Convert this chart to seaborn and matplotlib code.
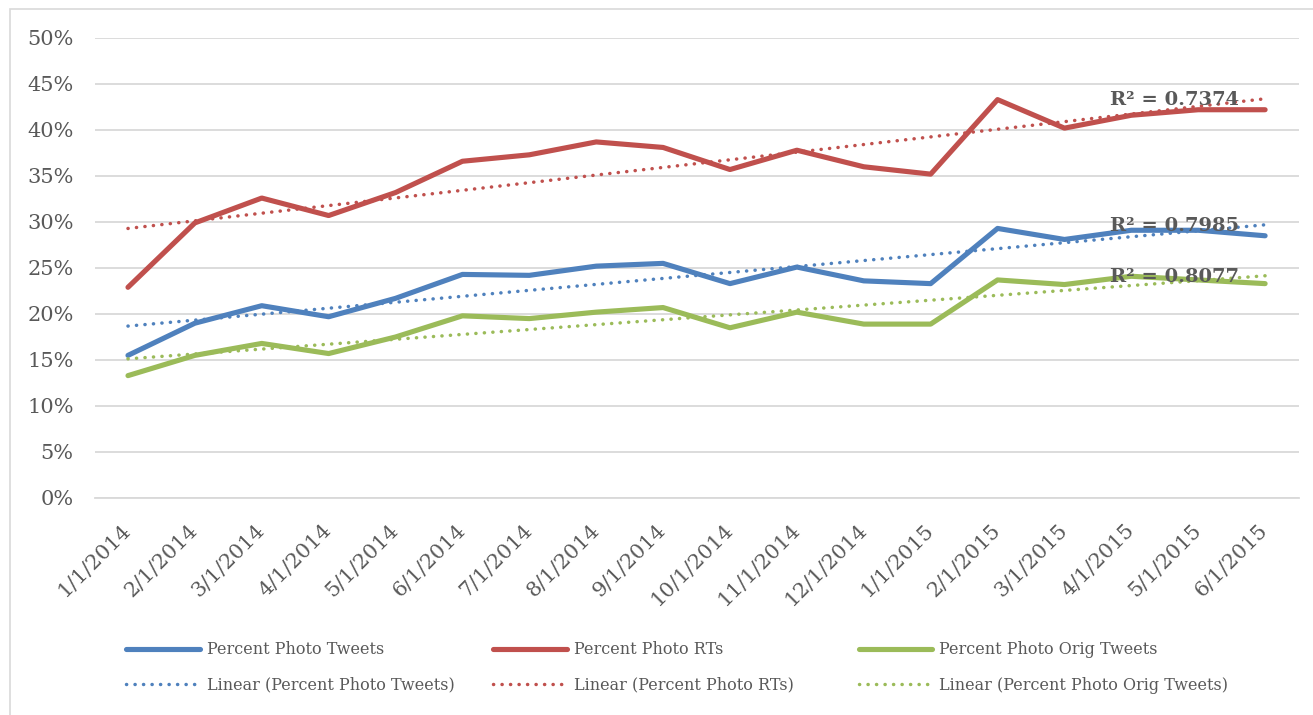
import numpy as np
import pandas as pd
import matplotlib
matplotlib.use("Agg")
import matplotlib.pyplot as plt
from matplotlib.lines import Line2D
from matplotlib.patches import Rectangle
from matplotlib.ticker import PercentFormatter
import seaborn as sns

# months on the x axis
dates = ["1/1/2014", "2/1/2014", "3/1/2014", "4/1/2014", "5/1/2014", "6/1/2014",
         "7/1/2014", "8/1/2014", "9/1/2014", "10/1/2014", "11/1/2014", "12/1/2014",
         "1/1/2015", "2/1/2015", "3/1/2015", "4/1/2015", "5/1/2015", "6/1/2015"]

# percent values
photo_tweets = [15.5, 19.0, 20.9, 19.7, 21.7, 24.3, 24.2, 25.2, 25.5, 23.3, 25.1, 23.6,
                23.3, 29.3, 28.1, 29.1, 29.1, 28.5]
photo_rts = [22.9, 29.9, 32.6, 30.7, 33.2, 36.6, 37.3, 38.7, 38.1, 35.7, 37.8, 36.0,
             35.2, 43.3, 40.2, 41.6, 42.2, 42.2]
photo_orig = [13.3, 15.5, 16.8, 15.7, 17.5, 19.8, 19.5, 20.2, 20.7, 18.5, 20.2, 18.9,
              18.9, 23.7, 23.2, 24.1, 23.7, 23.3]

series_names = ["Percent Photo Tweets", "Percent Photo RTs", "Percent Photo Orig Tweets"]
r2_labels = ["R² = 0.7985", "R² = 0.7374", "R² = 0.8077"]
colors = ["#4F81BD", "#C0504D", "#9BBB59"]

sns.set_style("white")
plt.rcParams["font.family"] = ["DejaVu Serif"]

idx = np.arange(len(dates))
all_series = [photo_tweets, photo_rts, photo_orig]
df = pd.concat([pd.DataFrame({"month": idx, "value": np.array(v) / 100, "series": n})
                for v, n in zip(all_series, series_names)])

fig = plt.figure(figsize=(13.13, 7.15), dpi=100)
ax = fig.add_axes([0.072, 0.3035, 0.917, 0.6434])

# chart border
fig.patches.append(Rectangle((10 / 1313, -0.05), 1.2, 1 - 9 / 715 + 0.05,
                             transform=fig.transFigure, fill=False,
                             edgecolor="#D9D9D9", lw=1.2))

sns.lineplot(data=df, x="month", y="value", hue="series", hue_order=series_names,
             palette=colors, lw=3.7, legend=False, sort=False, ax=ax,
             solid_capstyle="round", solid_joinstyle="round")

# linear trendlines
dot = (0, (0.05, 2.4))
for v, c in zip(all_series, colors):
    sns.regplot(x=idx, y=np.array(v) / 100, scatter=False, ci=None, truncate=True, ax=ax,
                color=c, line_kws=dict(lw=2.5, ls=dot, dash_capstyle="round"))

for lab, (xp, yp) in zip(r2_labels, [(15.65, 0.296), (15.65, 0.433), (15.65, 0.240)]):
    ax.text(xp, yp, lab, ha="center", va="center", fontsize=14, fontweight="bold",
            color="#595959", zorder=10)

ax.set_xlim(-0.5, len(dates) - 0.5)
ax.set_ylim(0, 0.5)
ax.set_yticks(np.arange(0, 0.51, 0.05))
ax.yaxis.set_major_formatter(PercentFormatter(1.0, decimals=0))
ax.grid(axis="y", color="#D9D9D9", lw=1.3)
ax.set_axisbelow(True)
for s in ["left", "right", "top"]:
    ax.spines[s].set_visible(False)
ax.spines["bottom"].set_color("#D9D9D9")
ax.spines["bottom"].set_linewidth(1.3)
ax.tick_params(axis="y", length=0, pad=15, labelsize=15, labelcolor="#595959")

ax.set_xticks(idx)
ax.set_xticklabels(dates)
ax.set_xticks(np.arange(-0.5, len(dates)), minor=True)
ax.tick_params(axis="x", which="major", length=0, pad=21, labelsize=15, labelcolor="#595959")
ax.tick_params(axis="x", which="minor", length=5.5, width=1.3, color="#D9D9D9", direction="out")
plt.setp(ax.get_xticklabels(), rotation=45, ha="right", va="center", rotation_mode="anchor")
ax.set_xlabel("")
ax.set_ylabel("")

# legend, one block per column
lx = [0.096, 0.3755, 0.654]
for i in range(3):
    handles = [Line2D([], [], color=colors[i], lw=3.7, solid_capstyle="round"),
               Line2D([], [], color=colors[i], lw=2.5, ls=dot, dash_capstyle="round")]
    labels = [series_names[i], "Linear (" + series_names[i] + ")"]
    leg = fig.legend(handles, labels, loc="upper left", bbox_to_anchor=(lx[i], 0.103),
                     frameon=False, fontsize=11.5, handlelength=4.6, handletextpad=0.45,
                     labelspacing=1.15, borderpad=0, borderaxespad=0)
    for t in leg.get_texts():
        t.set_color("#595959")

fig.savefig("out.png", dpi=100)
